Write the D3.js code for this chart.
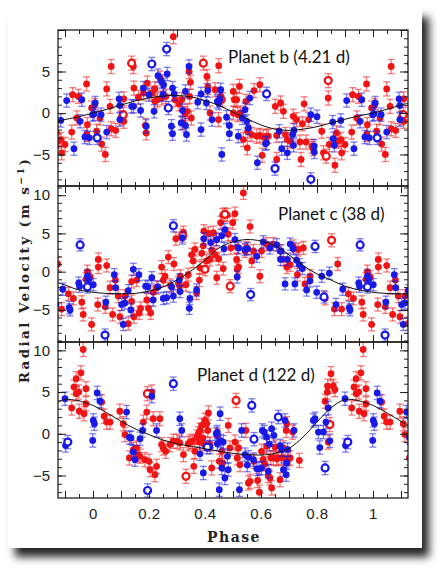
<!DOCTYPE html>
<html><head><meta charset="utf-8">
<script src="https://cdn.jsdelivr.net/npm/d3@7"></script>
<style>body{margin:0;background:#fff;} svg{display:block;}</style>
</head><body>
<svg id="c" width="445" height="571"></svg>
<script>
// ---------- data ----------
const phaseDomain = [-0.125, 1.125];
const phaseTicks = [0, 0.2, 0.4, 0.6, 0.8, 1];
const panelTitles = ["Planet b (4.21 d)", "Planet c (38 d)", "Planet d (122 d)"];
const velDomains = [[-8.8, 10.0], [-9.2, 11.2], [-7.7, 11.0]];
const velTickLabels = [[5, 0, -5], [10, 5, 0, -5], [10, 5, 0, -5]];
const xTitle = "Phase";
const yTitle = "Radial Velocity (m s";

// Planet b : [phase, velocity]
const bRed = [[0.005,0.9],[0.013,-2.2],[0.025,-0.6],[0.031,-3.75],[0.044,-5.0],[0.049,2.9],[0.061,0.8],[0.065,5.6],[0.065,-1.9],[0.081,-2.1],[0.100,-0.6],[0.110,1.7],[0.110,-1.0],[0.144,5.6],[0.146,3.0],[0.162,1.9],[0.180,2.4],[0.187,-1.5],[0.194,3.6],[0.190,-2.4],[0.210,2.4],[0.221,1.4],[0.221,2.9],[0.230,1.6],[0.240,4.2],[0.245,1.8],[0.260,2.0],[0.287,9.2],[0.293,1.6],[0.307,1.1],[0.317,1.6],[0.320,-1.2],[0.329,-0.1],[0.337,0.2],[0.343,5.0],[0.345,2.0],[0.348,3.7],[0.351,-0.6],[0.407,4.4],[0.410,3.1],[0.418,0.0],[0.436,2.8],[0.448,-0.8],[0.449,5.7],[0.457,2.0],[0.462,1.6],[0.501,2.6],[0.501,0.0],[0.505,1.6],[0.513,1.6],[0.517,-0.2],[0.523,3.2],[0.527,0.0],[0.537,-3.2],[0.546,1.4],[0.551,-4.2],[0.552,-2.2],[0.567,-2.6],[0.575,2.7],[0.585,-2.8],[0.596,3.4],[0.596,-2.7],[0.604,-5.1],[0.608,-2.9],[0.620,-2.8],[0.626,-2.8],[0.651,0.8],[0.656,-2.7],[0.656,-5.6],[0.670,1.2],[0.680,0.2],[0.687,-2.6],[0.694,-3.2],[0.704,-3.4],[0.715,-0.4],[0.727,-0.8],[0.739,-3.5],[0.743,-5.6],[0.748,-1.3],[0.754,1.1],[0.761,-3.5],[0.770,-0.8],[0.782,-4.0],[0.786,-4.3],[0.817,-2.2],[0.823,-4.8],[0.840,1.8],[0.844,-3.8],[0.864,-6.3],[0.870,-2.4],[0.876,-3.4],[0.885,-3.2],[0.888,-4.8],[0.900,-3.8],[0.924,-2.3],[0.927,2.2],[0.942,-0.6],[0.948,2.0],[0.977,3.5],[0.977,-2.6],[0.980,-1.4],[0.995,0.6]];
const bBlue = [[0.008,1.2],[0.004,-0.1],[0.029,-0.2],[0.049,-2.3],[0.093,1.7],[0.096,0.9],[0.096,-0.8],[0.138,0.8],[0.145,0.8],[0.170,0.3],[0.180,3.0],[0.190,-1.6],[0.200,2.2],[0.218,0.2],[0.232,4.5],[0.245,3.8],[0.252,3.4],[0.250,2.2],[0.265,4.7],[0.280,-1.6],[0.284,3.0],[0.284,-2.5],[0.290,2.3],[0.315,-1.2],[0.320,0.3],[0.330,-1.5],[0.334,-2.6],[0.343,5.6],[0.330,2.6],[0.374,1.3],[0.386,2.3],[0.386,-2.0],[0.405,1.2],[0.410,2.7],[0.425,-0.8],[0.444,1.4],[0.449,1.2],[0.452,1.6],[0.456,2.8],[0.460,-5.0],[0.477,-0.5],[0.487,-1.5],[0.487,-2.5],[0.519,-2.8],[0.533,-0.6],[0.543,0.4],[0.549,-1.0],[0.555,-1.8],[0.560,1.8],[0.587,-6.0],[0.620,-3.6],[0.616,-3.7],[0.665,-2.2],[0.674,-4.3],[0.694,-4.8],[0.713,-2.6],[0.716,-3.9],[0.718,-2.1],[0.778,-0.2],[0.790,-4.0],[0.790,-4.7],[0.800,-0.45],[0.856,-1.1],[0.858,-3.1],[0.862,-3.9],[0.885,-0.9],[0.906,1.5],[0.932,-4.3],[0.954,-1.0],[0.960,1.6],[0.971,-2.9],[0.987,-3.0],[0.999,-0.2]];
const bRedOpen = [[0.108,-0.2],[0.138,6.0],[0.394,6.0],[0.833,-5.2],[0.840,3.9]];
const bBlueOpen = [[0.015,-3.0],[0.210,5.9],[0.263,7.7],[0.269,0.6],[0.620,2.3],[0.650,-6.7],[0.778,-8.0]];
const bModel = [[-0.125,-0.95],[-0.05,-0.45],[0.0,0.0],[0.05,0.45],[0.1,0.95],[0.15,1.45],[0.2,1.8],[0.25,2.05],[0.3,2.1],[0.35,1.95],[0.4,1.5],[0.45,0.9],[0.5,0.1],[0.55,-0.7],[0.6,-1.45],[0.65,-1.95],[0.7,-2.1],[0.75,-1.95],[0.8,-1.65],[0.85,-1.2],[0.9,-0.75],[0.95,-0.35],[1.0,0.0],[1.05,0.45],[1.1,0.95],[1.125,1.2]];

// Planet c
const cRed = [[0.017,-4.3],[0.019,0.6],[0.019,1.6],[0.044,-4.6],[0.049,0.8],[0.061,-2.1],[0.070,-5.6],[0.080,-1.1],[0.090,-3.2],[0.096,-5.9],[0.114,-3.2],[0.126,-6.8],[0.138,-3.9],[0.138,-1.3],[0.146,-5.9],[0.156,-1.1],[0.165,-5.4],[0.170,-4.8],[0.192,-3.7],[0.198,-4.8],[0.206,-5.4],[0.215,-2.7],[0.227,-2.1],[0.245,0.6],[0.251,-1.1],[0.257,-0.6],[0.269,1.9],[0.277,-1.8],[0.289,1.0],[0.296,4.3],[0.305,-1.5],[0.310,-1.9],[0.312,-0.6],[0.323,5.1],[0.332,-1.7],[0.340,-0.4],[0.352,2.2],[0.358,1.4],[0.364,2.9],[0.370,-2.8],[0.380,-1.1],[0.382,0.5],[0.388,2.4],[0.394,3.4],[0.396,5.3],[0.406,1.4],[0.412,5.0],[0.418,1.6],[0.424,2.8],[0.430,5.1],[0.436,2.2],[0.440,4.2],[0.442,-0.8],[0.449,1.7],[0.456,6.4],[0.463,7.4],[0.465,0.4],[0.480,7.4],[0.483,4.9],[0.492,3.1],[0.499,6.4],[0.507,7.6],[0.513,1.6],[0.515,0.3],[0.520,0.6],[0.515,3.2],[0.537,10.3],[0.543,2.7],[0.549,3.1],[0.561,5.9],[0.567,1.4],[0.573,2.7],[0.596,-0.6],[0.602,2.7],[0.620,3.6],[0.644,3.6],[0.668,2.7],[0.680,1.6],[0.692,0.6],[0.704,0.9],[0.715,3.3],[0.730,-0.4],[0.733,2.9],[0.751,3.1],[0.757,-1.6],[0.775,-0.6],[0.829,-3.5],[0.862,-4.9],[0.874,1.0],[0.888,-4.9],[0.912,-2.9],[0.930,-3.5],[0.960,-4.0],[0.965,-5.6],[0.975,-1.0],[0.980,0.0],[0.990,-0.7],[0.995,-6.9]];
const cBlue = [[0.001,-1.7],[0.046,-4.0],[0.076,-0.4],[0.081,-2.1],[0.102,-4.3],[0.108,-6.9],[0.114,-4.1],[0.126,-2.5],[0.135,-5.0],[0.144,0.3],[0.164,-0.4],[0.188,-1.9],[0.196,-2.0],[0.210,-0.8],[0.215,-3.7],[0.232,-2.0],[0.251,-3.5],[0.263,-3.4],[0.281,-2.0],[0.287,-3.2],[0.308,-1.1],[0.311,-2.6],[0.319,4.4],[0.344,-4.8],[0.346,-3.5],[0.370,-2.4],[0.396,4.3],[0.420,3.8],[0.442,4.2],[0.460,4.7],[0.468,3.0],[0.471,5.5],[0.507,4.2],[0.515,-0.7],[0.520,3.1],[0.543,2.9],[0.552,3.0],[0.585,2.0],[0.608,3.9],[0.632,3.1],[0.656,3.5],[0.670,1.6],[0.672,2.7],[0.686,-1.6],[0.694,1.6],[0.704,3.6],[0.715,3.0],[0.721,-1.6],[0.727,1.5],[0.737,0.9],[0.748,0.4],[0.763,-2.4],[0.775,-1.2],[0.799,-2.7],[0.817,-0.6],[0.844,-0.2],[0.868,-4.3],[0.892,-2.3],[0.915,-4.7],[0.918,-5.0],[0.949,-1.5],[0.952,-1.9],[0.980,-0.6],[0.985,-1.0]];
const cRedOpen = [[0.320,4.7],[0.400,0.3],[0.471,7.5],[0.490,-1.9],[0.852,4.1]];
const cBlueOpen = [[0.043,-8.3],[0.287,6.0],[0.563,-3.0],[0.793,3.3],[0.825,-3.3],[0.954,3.5],[0.980,-2.0]];
const cModel = [[-0.125,-1.45],[-0.1,-1.75],[-0.05,-2.4],[0.0,-2.7],[0.05,-2.85],[0.1,-2.9],[0.15,-2.85],[0.2,-2.55],[0.25,-2.0],[0.3,-1.1],[0.35,0.1],[0.4,1.5],[0.45,3.1],[0.5,3.9],[0.55,4.2],[0.6,4.0],[0.65,3.4],[0.7,2.2],[0.75,0.8],[0.8,-0.3],[0.85,-1.1],[0.9,-1.9],[0.95,-2.4],[1.0,-2.7],[1.05,-2.85],[1.1,-2.9],[1.125,-2.9]];

// Planet d
const dRed = [[0.031,3.8],[0.040,2.1],[0.049,1.4],[0.061,1.4],[0.096,2.7],[0.108,1.2],[0.114,-0.1],[0.130,-2.9],[0.144,-1.9],[0.156,-1.7],[0.162,-2.5],[0.168,-2.7],[0.180,1.4],[0.185,-3.1],[0.192,2.6],[0.200,-3.3],[0.204,-4.3],[0.210,5.0],[0.215,1.8],[0.221,-4.9],[0.227,-3.9],[0.239,1.8],[0.245,-1.3],[0.251,-1.7],[0.260,-2.1],[0.275,-1.3],[0.287,-0.9],[0.301,-0.9],[0.310,-1.1],[0.323,-2.5],[0.340,-1.2],[0.346,-1.0],[0.355,-0.9],[0.360,-3.9],[0.364,-2.1],[0.370,-0.4],[0.376,0.0],[0.380,-1.0],[0.382,0.4],[0.388,1.0],[0.392,-0.5],[0.396,-1.2],[0.400,1.6],[0.406,1.2],[0.410,0.4],[0.412,2.5],[0.418,-1.25],[0.424,-4.1],[0.444,-0.2],[0.451,-3.3],[0.460,-2.1],[0.463,-3.5],[0.483,1.0],[0.489,-1.7],[0.507,-1.0],[0.515,-2.9],[0.520,-1.7],[0.525,-3.7],[0.546,0.4],[0.555,-5.9],[0.561,-5.7],[0.575,-3.3],[0.588,-5.6],[0.594,-7.0],[0.602,-2.1],[0.608,-3.1],[0.614,-3.6],[0.620,-1.5],[0.626,-5.0],[0.632,-5.3],[0.635,-2.9],[0.638,-6.5],[0.644,-2.9],[0.650,-1.6],[0.656,-3.0],[0.662,-2.9],[0.668,-5.5],[0.674,-2.9],[0.680,-1.7],[0.686,-3.0],[0.690,0.4],[0.692,1.2],[0.698,-3.0],[0.704,-2.9],[0.713,0.2],[0.737,-3.2],[0.829,3.9],[0.837,5.0],[0.838,5.7],[0.840,-1.0],[0.850,7.2],[0.858,5.7],[0.864,5.3],[0.924,3.1],[0.932,5.6],[0.940,6.6],[0.940,4.8],[0.949,5.0],[0.951,2.7],[0.957,7.3],[0.965,10.1],[0.968,2.4],[0.975,5.4],[0.975,3.6]];
const dBlue = [[0.001,1.6],[0.005,1.2],[0.015,4.9],[0.025,3.9],[0.120,2.6],[0.130,-0.45],[0.136,-0.5],[0.144,-2.2],[0.150,-3.1],[0.168,-0.6],[0.177,0.4],[0.210,4.5],[0.227,0.4],[0.310,1.8],[0.317,0.4],[0.382,-2.4],[0.394,-4.7],[0.418,-1.6],[0.440,0.0],[0.444,0.2],[0.444,-1.2],[0.451,-6.7],[0.454,2.4],[0.456,-0.85],[0.460,-4.1],[0.465,-1.0],[0.471,-5.3],[0.480,-2.7],[0.483,-4.3],[0.523,-6.7],[0.531,0.4],[0.543,-2.5],[0.551,-3.75],[0.556,-2.8],[0.573,-3.1],[0.585,-4.2],[0.593,-4.2],[0.602,-4.1],[0.605,0.4],[0.612,0.2],[0.620,-0.4],[0.626,-4.5],[0.630,-1.25],[0.638,0.6],[0.646,-0.2],[0.668,-1.45],[0.674,-1.9],[0.680,-4.3],[0.686,1.6],[0.692,-3.5],[0.690,-4.9],[0.695,-1.9],[0.718,0.4],[0.787,1.6],[0.793,1.8],[0.805,0.2],[0.810,-1.65],[0.823,0.2],[0.832,1.4],[0.840,3.1],[0.846,-0.85],[0.900,4.2],[0.902,-1.4],[0.999,-0.8]];
const dRedOpen = [[0.194,4.8],[0.332,-5.1],[0.511,4.0],[0.846,1.1]];
const dBlueOpen = [[0.195,-6.8],[0.287,6.0],[0.408,-1.6],[0.567,3.4],[0.575,-0.65],[0.662,2.0],[0.829,-4.1],[0.910,-1.0]];
const dModel = [[-0.125,3.8],[-0.1,4.1],[-0.05,3.95],[0.0,3.4],[0.05,2.5],[0.1,1.5],[0.15,0.6],[0.2,-0.1],[0.25,-0.75],[0.3,-1.2],[0.35,-1.5],[0.4,-1.8],[0.45,-2.1],[0.5,-2.35],[0.55,-2.5],[0.6,-2.55],[0.65,-2.35],[0.7,-1.75],[0.75,-0.4],[0.8,1.4],[0.85,3.1],[0.9,4.1],[0.95,3.95],[1.0,3.4],[1.05,2.5],[1.1,1.5],[1.125,1.05]];

const errRed = 0.85, errBlue = 0.8;

// ---------- drawing ----------
const RED = "#f01414", BLUE = "#1a1ae6";
const svg = d3.select("#c");
const defs = svg.append("defs");
const flt = defs.append("filter").attr("id","sh").attr("x","-5%").attr("y","-5%").attr("width","115%").attr("height","115%");
flt.append("feDropShadow").attr("dx",7).attr("dy",9).attr("stdDeviation",4)
   .attr("flood-color","#000").attr("flood-opacity",0.85);
svg.append("rect").attr("x",8).attr("y",8).attr("width",414).attr("height",540)
   .attr("fill","#fff").attr("filter","url(#sh)");

const L = 58, R = 408, panelTops = [30, 186, 342], PH = 156;
const x = d3.scaleLinear().domain(phaseDomain).range([L, R]);

const panels = [
  {red: bRed, blue: bBlue, redOpen: bRedOpen, blueOpen: bBlueOpen, model: bModel},
  {red: cRed, blue: cBlue, redOpen: cRedOpen, blueOpen: cBlueOpen, model: cModel},
  {red: dRed, blue: dBlue, redOpen: dRedOpen, blueOpen: dBlueOpen, model: dModel}
];
const titlePos = [[228, 62.5], [278, 220], [197, 380.5]];

function wrapPhase(arr){
  const out = [];
  arr.forEach(([p, v]) => {
    out.push([p, v]);
    if (p + 1 <= phaseDomain[1] + 0.02) out.push([p + 1, v]);
    if (p - 1 >= phaseDomain[0] - 0.02) out.push([p - 1, v]);
  });
  return out;
}

const minorX = d3.range(-10, 113, 5).map(d => d / 100);
const majorX = d3.range(-10, 113, 10).map(d => d / 100);
const tickFont = "'Liberation Sans', Arial, sans-serif";

panels.forEach((pn, i) => {
  const top = panelTops[i];
  const y = d3.scaleLinear().domain(velDomains[i]).range([top + PH, top]);
  const g = svg.append("g");
  const cid = "clip" + i;
  defs.append("clipPath").attr("id", cid).append("rect")
    .attr("x", L).attr("y", top).attr("width", R - L).attr("height", PH);
  const plot = g.append("g").attr("clip-path", `url(#${cid})`);

  function drawSeries(data, color, open, err){
    const pts = wrapPhase(data);
    const eg = plot.append("g").attr("stroke", color).attr("stroke-opacity", 0.55).attr("stroke-width", 1.3);
    pts.forEach(([p, v]) => {
      const cx = x(p), y1 = y(v - err), y2 = y(v + err);
      eg.append("line").attr("x1", cx).attr("x2", cx).attr("y1", y1).attr("y2", y2);
      eg.append("line").attr("x1", cx - 3.5).attr("x2", cx + 3.5).attr("y1", y1).attr("y2", y1);
      eg.append("line").attr("x1", cx - 3.5).attr("x2", cx + 3.5).attr("y1", y2).attr("y2", y2);
    });
    plot.append("g").selectAll("circle").data(pts).join("circle")
      .attr("cx", d => x(d[0])).attr("cy", d => y(d[1]))
      .attr("r", open ? 3.5 : 3.4)
      .attr("fill", open ? "#fff" : color)
      .attr("stroke", open ? color : "none")
      .attr("stroke-width", open ? 2.2 : 0);
  }
  drawSeries(pn.red, RED, false, errRed);
  drawSeries(pn.redOpen, RED, true, errRed);
  drawSeries(pn.blue, BLUE, false, errBlue);
  drawSeries(pn.blueOpen, BLUE, true, errBlue);

  plot.append("path").datum(pn.model)
    .attr("d", d3.line().x(d => x(d[0])).y(d => y(d[1])).curve(d3.curveCatmullRom.alpha(0.5)))
    .attr("fill", "none").attr("stroke", "#111").attr("stroke-width", 1);

  // ticks (inward) on all four sides
  const yMinor = d3.range(Math.ceil(velDomains[i][0]), Math.floor(velDomains[i][1]) + 1);
  const yMajor = yMinor.filter(v => v % 5 === 0);
  const axes = [
    [d3.axisLeft(y).tickValues(yMinor).tickSize(-4), L, 0],
    [d3.axisLeft(y).tickValues(yMajor).tickSize(-8), L, 0],
    [d3.axisRight(y).tickValues(yMinor).tickSize(-4), R, 0],
    [d3.axisRight(y).tickValues(yMajor).tickSize(-8), R, 0],
    [d3.axisBottom(x).tickValues(minorX).tickSize(-4), 0, top + PH],
    [d3.axisBottom(x).tickValues(majorX).tickSize(-7), 0, top + PH],
    [d3.axisTop(x).tickValues(minorX).tickSize(-4), 0, top],
    [d3.axisTop(x).tickValues(majorX).tickSize(-7), 0, top]
  ];
  axes.forEach(([ax, tx, ty]) => {
    const a = g.append("g").attr("transform", `translate(${tx},${ty})`).call(ax.tickFormat(""));
    a.select(".domain").remove();
    a.selectAll("line").attr("stroke", "#222").attr("stroke-width", 1);
  });

  // y tick labels
  const yl = g.append("g").attr("transform", `translate(${L},0)`)
    .call(d3.axisLeft(y).tickValues(velTickLabels[i]).tickSize(0).tickPadding(8)
      .tickFormat(d => d < 0 ? "\u2212" + Math.abs(d) : String(d)));
  yl.select(".domain").remove();
  yl.selectAll("text").attr("font-family", tickFont).attr("font-size", 15).attr("fill", "#222");

  // frame
  g.append("rect").attr("x", L).attr("y", top).attr("width", R - L).attr("height", PH)
    .attr("fill", "none").attr("stroke", "#111").attr("stroke-width", 1.2);

  // title
  g.append("text").attr("x", titlePos[i][0]).attr("y", titlePos[i][1])
    .attr("font-family", "Lato, 'Open Sans', sans-serif").attr("font-size", 17).attr("fill", "#111")
    .text(panelTitles[i]);
});

// x tick labels
const xl = svg.append("g").attr("transform", `translate(0,${panelTops[2] + PH})`)
  .call(d3.axisBottom(x).tickValues(phaseTicks).tickSize(0).tickPadding(10).tickFormat(d => String(d)));
xl.select(".domain").remove();
xl.selectAll("text").attr("font-family", tickFont).attr("font-size", 15).attr("fill", "#222").attr("letter-spacing", 0.5);

// axis titles
svg.append("text").attr("x", 234).attr("y", 542).attr("text-anchor", "middle")
  .attr("font-family", "'DejaVu Serif', serif").attr("font-weight", "bold").attr("font-size", 14)
  .attr("letter-spacing", 1.5).attr("fill", "#222").text(xTitle);

const yt = svg.append("text").attr("transform", "translate(29,270) rotate(-90)").attr("text-anchor", "middle")
  .attr("font-family", "'DejaVu Serif', serif").attr("font-weight", "bold").attr("font-size", 13.5)
  .attr("letter-spacing", 2.4).attr("fill", "#222");
yt.append("tspan").text(yTitle);
yt.append("tspan").attr("dy", -5).attr("font-size", 9.5).text("\u22121");
yt.append("tspan").attr("dy", 5).text(")");
</script>
</body></html>
